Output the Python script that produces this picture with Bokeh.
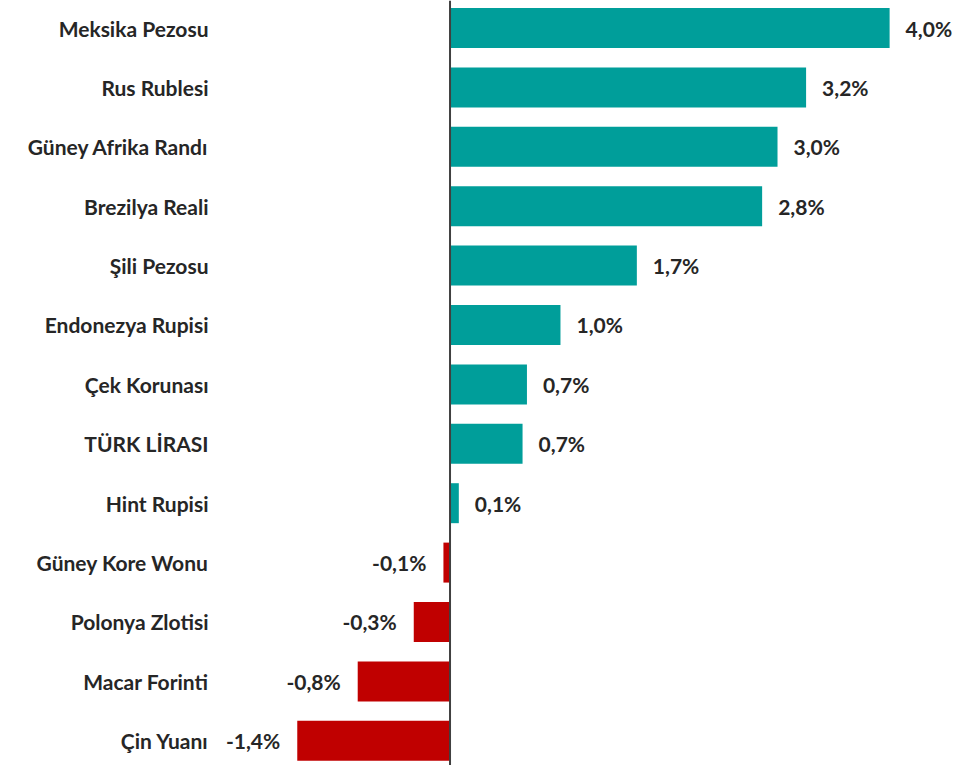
from bokeh.plotting import figure
from bokeh.models import Range1d, Span, ColumnDataSource, FixedTicker, LabelSet
from bokeh.embed import file_html
from bokeh.resources import INLINE
from bokeh.core.properties import value

categories = ["Meksika Pezosu", "Rus Rublesi", "Güney Afrika Randı", "Brezilya Reali",
              "Şili Pezosu", "Endonezya Rupisi", "Çek Korunası", "TÜRK LİRASI",
              "Hint Rupisi", "Güney Kore Wonu", "Polonya Zlotisi", "Macar Forinti",
              "Çin Yuanı"]
values = [4.0, 3.24, 2.98, 2.84, 1.70, 1.005, 0.70, 0.66, 0.08, -0.06, -0.33, -0.84, -1.39]
labels = ["4,0%", "3,2%", "3,0%", "2,8%", "1,7%", "1,0%", "0,7%", "0,7%", "0,1%",
          "-0,1%", "-0,3%", "-0,8%", "-1,4%"]

POS = "#009E9A"
NEG = "#C00000"
TXT = "#262626"
FONT = "Lato"

ypos = [-i for i in range(len(categories))]
colors = [POS if v >= 0 else NEG for v in values]
src = ColumnDataSource(dict(
    y=ypos, v=values, zero=[0] * len(values), color=colors,
    pos_lab=[l if v >= 0 else "" for l, v in zip(labels, values)],
    neg_lab=[l if v < 0 else "" for l, v in zip(labels, values)],
))

p = figure(width=970, height=765, output_backend="svg", toolbar_location=None,
           x_range=Range1d(-2.134, 4.736), y_range=Range1d(-12.416, 0.463),
           min_border_left=215, min_border_right=0, min_border_top=0, min_border_bottom=0)
p.outline_line_color = None
p.grid.visible = False
p.xaxis.visible = False
p.background_fill_color = "white"
p.border_fill_color = "white"

p.hbar(y="y", left="zero", right="v", height=0.673, fill_color="color",
       line_color=None, source=src)

p.add_layout(Span(location=0, dimension="height", line_color="#404040", line_width=2))

p.yaxis.ticker = FixedTicker(ticks=ypos)
p.yaxis.major_label_overrides = {y: c for y, c in zip(ypos, categories)}
p.yaxis.axis_line_color = None
p.yaxis.major_tick_line_color = None
p.yaxis.minor_tick_line_color = None
p.yaxis.major_tick_out = 0
p.yaxis.major_label_standoff = 7
p.yaxis.major_label_text_font = FONT
p.yaxis.major_label_text_font_style = "bold"
p.yaxis.major_label_text_font_size = "21px"
p.yaxis.major_label_text_color = TXT

p.add_layout(LabelSet(x="v", y="y", text="pos_lab", source=src, x_offset=16,
                      text_baseline="middle", text_align="left",
                      text_font=value(FONT), text_font_style="bold",
                      text_font_size="21px", text_color=TXT))
p.add_layout(LabelSet(x="v", y="y", text="neg_lab", source=src, x_offset=-17,
                      text_baseline="middle", text_align="right",
                      text_font=value(FONT), text_font_style="bold",
                      text_font_size="21px", text_color=TXT))

open("out.html", "w").write(file_html(p, INLINE))
